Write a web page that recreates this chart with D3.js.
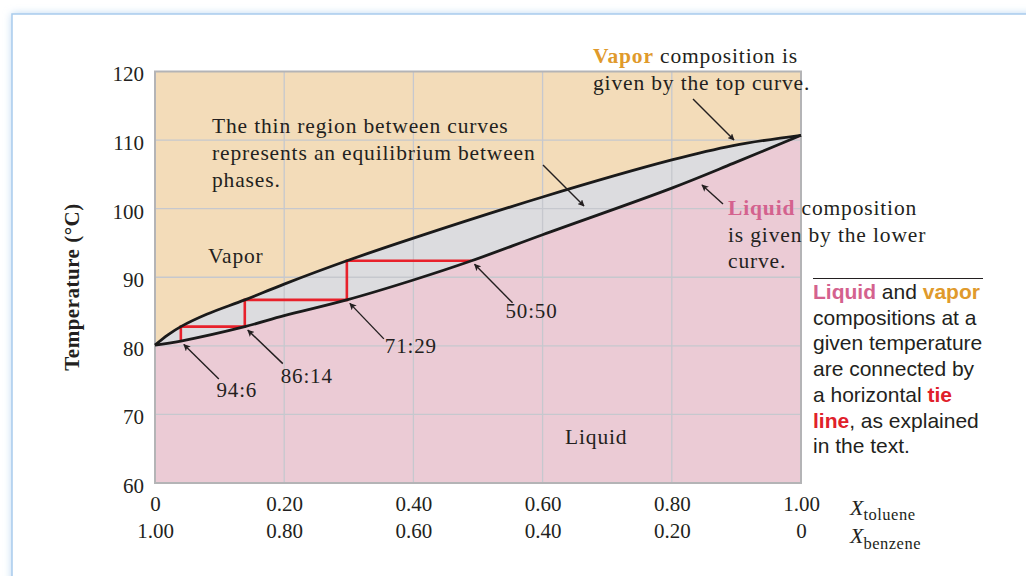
<!DOCTYPE html>
<html>
<head>
<meta charset="utf-8">
<script src="https://cdn.jsdelivr.net/npm/d3@7"></script>
<style>
  body { margin: 0; background: #fff; }
  svg { display: block; }
  .serif { font-family: "Liberation Serif", "Times New Roman", serif; fill: #231f20; }
  .note { letter-spacing: 0.85px; }
  .sans { font-family: "Liberation Sans", Arial, sans-serif; fill: #231f20; }
</style>
</head>
<body>
<svg id="chart" width="1026" height="576"></svg>
<script>
// Benzene–toluene boiling diagram: liquid (bubble) and vapor (dew) curves
const liquidX = [0, 0.04, 0.139, 0.2, 0.297, 0.4, 0.49, 0.6, 0.8, 0.895, 1.0];
const liquidT = [80.1, 80.7, 82.8, 84.4, 86.7, 89.6, 92.4, 96.2, 103.0, 106.6, 110.7];

const vaporX = [0, 0.02, 0.04, 0.08, 0.139, 0.2, 0.297, 0.4, 0.6, 0.8, 0.895, 1.0];
const vaporT = [80.1, 81.6, 82.8, 84.6, 86.7, 89.0, 92.4, 95.7, 101.7, 107.1, 109.2, 110.7];

// Successive liquid compositions linked by tie lines (benzene:toluene)
const stepX = [0.04, 0.139, 0.297, 0.49];
const stepT = [80.7, 82.8, 86.7, 92.4];
const stepLabels = ["94:6", "86:14", "71:29", "50:50"];

const tempTicks = [60, 70, 80, 90, 100, 110, 120];
const compTicks = [0, 0.2, 0.4, 0.6, 0.8, 1.0];
const tolueneLabels = ["0", "0.20", "0.40", "0.60", "0.80", "1.00"];
const benzeneLabels = ["1.00", "0.80", "0.60", "0.40", "0.20", "0"];

const svg = d3.select("#chart");
const W = 1026, H = 576;

// ---- panel frame with soft blue edge ----
const defs = svg.append("defs");
defs.append("filter").attr("id", "glow")
  .attr("x", "-5%").attr("y", "-5%").attr("width", "110%").attr("height", "110%")
  .append("feGaussianBlur").attr("stdDeviation", 4);
defs.append("marker").attr("id", "head")
  .attr("viewBox", "0 0 10 10").attr("refX", 9).attr("refY", 5)
  .attr("markerWidth", 7).attr("markerHeight", 7).attr("markerUnits", "userSpaceOnUse")
  .attr("orient", "auto")
  .append("path").attr("d", "M0,0 L10,5 L0,10 L2.5,5 Z").attr("fill", "#231f20");

svg.append("rect").attr("x", 12).attr("y", 14).attr("width", W + 40).attr("height", H + 40)
  .attr("fill", "#b3d2ef").attr("filter", "url(#glow)");
svg.append("rect").attr("x", 12).attr("y", 14).attr("width", W + 40).attr("height", H + 40)
  .attr("fill", "#fff").attr("stroke", "#a9cced").attr("stroke-width", 1.5);

// ---- scales ----
const x = d3.scaleLinear().domain([0, 1]).range([155, 801]);
const y = d3.scaleLinear().domain([60, 120]).range([483, 71.5]);

const liquid = liquidX.map((v, i) => [v, liquidT[i]]);
const vapor = vaporX.map((v, i) => [v, vaporT[i]]);

const smooth = d3.curveCatmullRom.alpha(0.5);
const line = d3.line().x(d => x(d[0])).y(d => y(d[1])).curve(smooth);

// ---- regions ----
const plot = svg.append("g");
plot.append("rect").attr("x", x(0)).attr("y", y(120))
  .attr("width", x(1) - x(0)).attr("height", y(60) - y(120)).attr("fill", "#f3dcb9");

// two-phase band: vapor curve out, liquid curve back
const band = line(vapor) + "L" + line(liquid.slice().reverse()).slice(1) + "Z";
plot.append("path").attr("d", band).attr("fill", "#dcdcdf");

const liquidArea = d3.area().x(d => x(d[0])).y0(y(60)).y1(d => y(d[1])).curve(smooth);
plot.append("path").datum(liquid).attr("d", liquidArea).attr("fill", "#ebcbd5");

// ---- grid ----
const grid = svg.append("g").attr("stroke", "#c6c8ce").attr("stroke-width", 1.3);
grid.selectAll("line.v").data(compTicks.slice(1, -1)).join("line")
  .attr("x1", d => x(d)).attr("x2", d => x(d)).attr("y1", y(120)).attr("y2", y(60));
grid.selectAll("line.h").data(tempTicks.slice(1, -1)).join("line")
  .attr("x1", x(0)).attr("x2", x(1)).attr("y1", d => y(d)).attr("y2", d => y(d));

svg.append("rect").attr("x", x(0)).attr("y", y(120))
  .attr("width", x(1) - x(0)).attr("height", y(60) - y(120))
  .attr("fill", "none").attr("stroke", "#b4b4b6").attr("stroke-width", 2);

// ---- tie-line staircase ----
let stairs = [[stepX[0], stepT[0]]];
for (let i = 0; i < stepX.length - 1; i++) {
  stairs.push([stepX[i], stepT[i + 1]]);
  stairs.push([stepX[i + 1], stepT[i + 1]]);
}
svg.append("path")
  .attr("d", d3.line().x(d => x(d[0])).y(d => y(d[1]))(stairs))
  .attr("fill", "none").attr("stroke", "#e8212b").attr("stroke-width", 2.6);

// ---- curves ----
svg.append("path").attr("d", line(vapor)).attr("fill", "none")
  .attr("stroke", "#1a1a1a").attr("stroke-width", 2.8).attr("stroke-linejoin", "round");
svg.append("path").attr("d", line(liquid)).attr("fill", "none")
  .attr("stroke", "#1a1a1a").attr("stroke-width", 2.8).attr("stroke-linejoin", "round");

// ---- axes ----
const yAxis = svg.append("g").attr("transform", `translate(${x(0)},0)`)
  .call(d3.axisLeft(y).tickValues(tempTicks).tickSize(0).tickPadding(11));
yAxis.select(".domain").remove();
yAxis.selectAll("text").attr("class", "serif").attr("font-size", 21).attr("dy", "0.45em");

const xAxisTop = svg.append("g").attr("transform", `translate(0,${y(60)})`)
  .call(d3.axisBottom(x).tickValues(compTicks).tickSize(0).tickPadding(13)
    .tickFormat((d, i) => tolueneLabels[i]));
const xAxisBot = svg.append("g").attr("transform", `translate(0,${y(60)})`)
  .call(d3.axisBottom(x).tickValues(compTicks).tickSize(0).tickPadding(40)
    .tickFormat((d, i) => benzeneLabels[i]));
[xAxisTop, xAxisBot].forEach(g => {
  g.select(".domain").remove();
  g.selectAll("text").attr("class", "serif").attr("font-size", 21);
});

// axis titles
const xt = svg.append("text").attr("class", "serif").attr("x", 850).attr("y", 515).attr("font-size", 22);
xt.append("tspan").attr("font-style", "italic").text("X");
xt.append("tspan").attr("font-size", 16.5).attr("dy", 5).attr("letter-spacing", 0.5).text("toluene");
const xb = svg.append("text").attr("class", "serif").attr("x", 850).attr("y", 542.5).attr("font-size", 22);
xb.append("tspan").attr("font-style", "italic").text("X");
xb.append("tspan").attr("font-size", 16.5).attr("dy", 6).attr("letter-spacing", 0.5).text("benzene");

svg.append("text").attr("class", "serif")
  .attr("transform", "translate(79,287) rotate(-90)")
  .attr("text-anchor", "middle").attr("font-size", 21).attr("font-weight", "bold")
  .attr("letter-spacing", 0.5)
  .text("Temperature (°C)");

// ---- region labels ----
svg.append("text").attr("class", "serif note").attr("x", 208).attr("y", 263).attr("font-size", 21.5).text("Vapor");
svg.append("text").attr("class", "serif note").attr("x", 565).attr("y", 444).attr("font-size", 21.5).text("Liquid");

// ---- arrow helper ----
function arrow(x1, y1, x2, y2) {
  svg.append("line").attr("x1", x1).attr("y1", y1).attr("x2", x2).attr("y2", y2)
    .attr("stroke", "#231f20").attr("stroke-width", 1.4).attr("marker-end", "url(#head)");
}

// composition labels pointing at the liquid curve
const labelOffsets = [[56, 56], [62, 56], [64, 53.5], [60, 57]];
const tailOffsets = [[38, 38], [38, 37], [37, 39], [41, 42]];
stepX.forEach((v, i) => {
  const px = x(v), py = y(stepT[i]);
  arrow(px + tailOffsets[i][0], py + tailOffsets[i][1], px + 3, py + 3.5);
  svg.append("text").attr("class", "serif note").attr("font-size", 21)
    .attr("x", px + labelOffsets[i][0]).attr("y", py + labelOffsets[i][1])
    .attr("text-anchor", "middle").text(stepLabels[i]);
});

// ---- annotations ----
function para(xp, yp, lines, gap, cls, size) {
  const t = svg.append("text").attr("class", cls).attr("font-size", size);
  lines.forEach((parts, i) => {
    parts.forEach((p, j) => {
      const s = t.append("tspan").text(p.t);
      if (j === 0) s.attr("x", xp).attr("y", yp + i * gap);
      if (p.c) s.attr("fill", p.c);
      if (p.b) s.attr("font-weight", "bold");
    });
  });
}

para(593, 63, [
  [{ t: "Vapor", c: "#e09a2c", b: true }, { t: " composition is" }],
  [{ t: "given by the top curve." }]
], 27, "serif note", 21.5);
arrow(693, 99, 734, 140);

para(212, 133, [
  [{ t: "The thin region between curves" }],
  [{ t: "represents an equilibrium between" }],
  [{ t: "phases." }]
], 27, "serif note", 21.5);
arrow(543, 165, 584, 206);

para(728, 215, [
  [{ t: "Liquid", c: "#d4628e", b: true }, { t: " composition" }],
  [{ t: "is given by the lower" }],
  [{ t: "curve." }]
], 26.5, "serif note", 21.5);
arrow(723, 204, 702, 185);

svg.append("line").attr("x1", 813).attr("x2", 983).attr("y1", 278.5).attr("y2", 278.5)
  .attr("stroke", "#231f20").attr("stroke-width", 1.2);
para(813, 299, [
  [{ t: "Liquid", c: "#d4628e", b: true }, { t: " and " }, { t: "vapor", c: "#e09a2c", b: true }],
  [{ t: "compositions at a" }],
  [{ t: "given temperature" }],
  [{ t: "are connected by" }],
  [{ t: "a horizontal " }, { t: "tie", c: "#e0202a", b: true }],
  [{ t: "line", c: "#e0202a", b: true }, { t: ", as explained" }],
  [{ t: "in the text." }]
], 25.7, "sans", 21);
</script>
</body>
</html>
